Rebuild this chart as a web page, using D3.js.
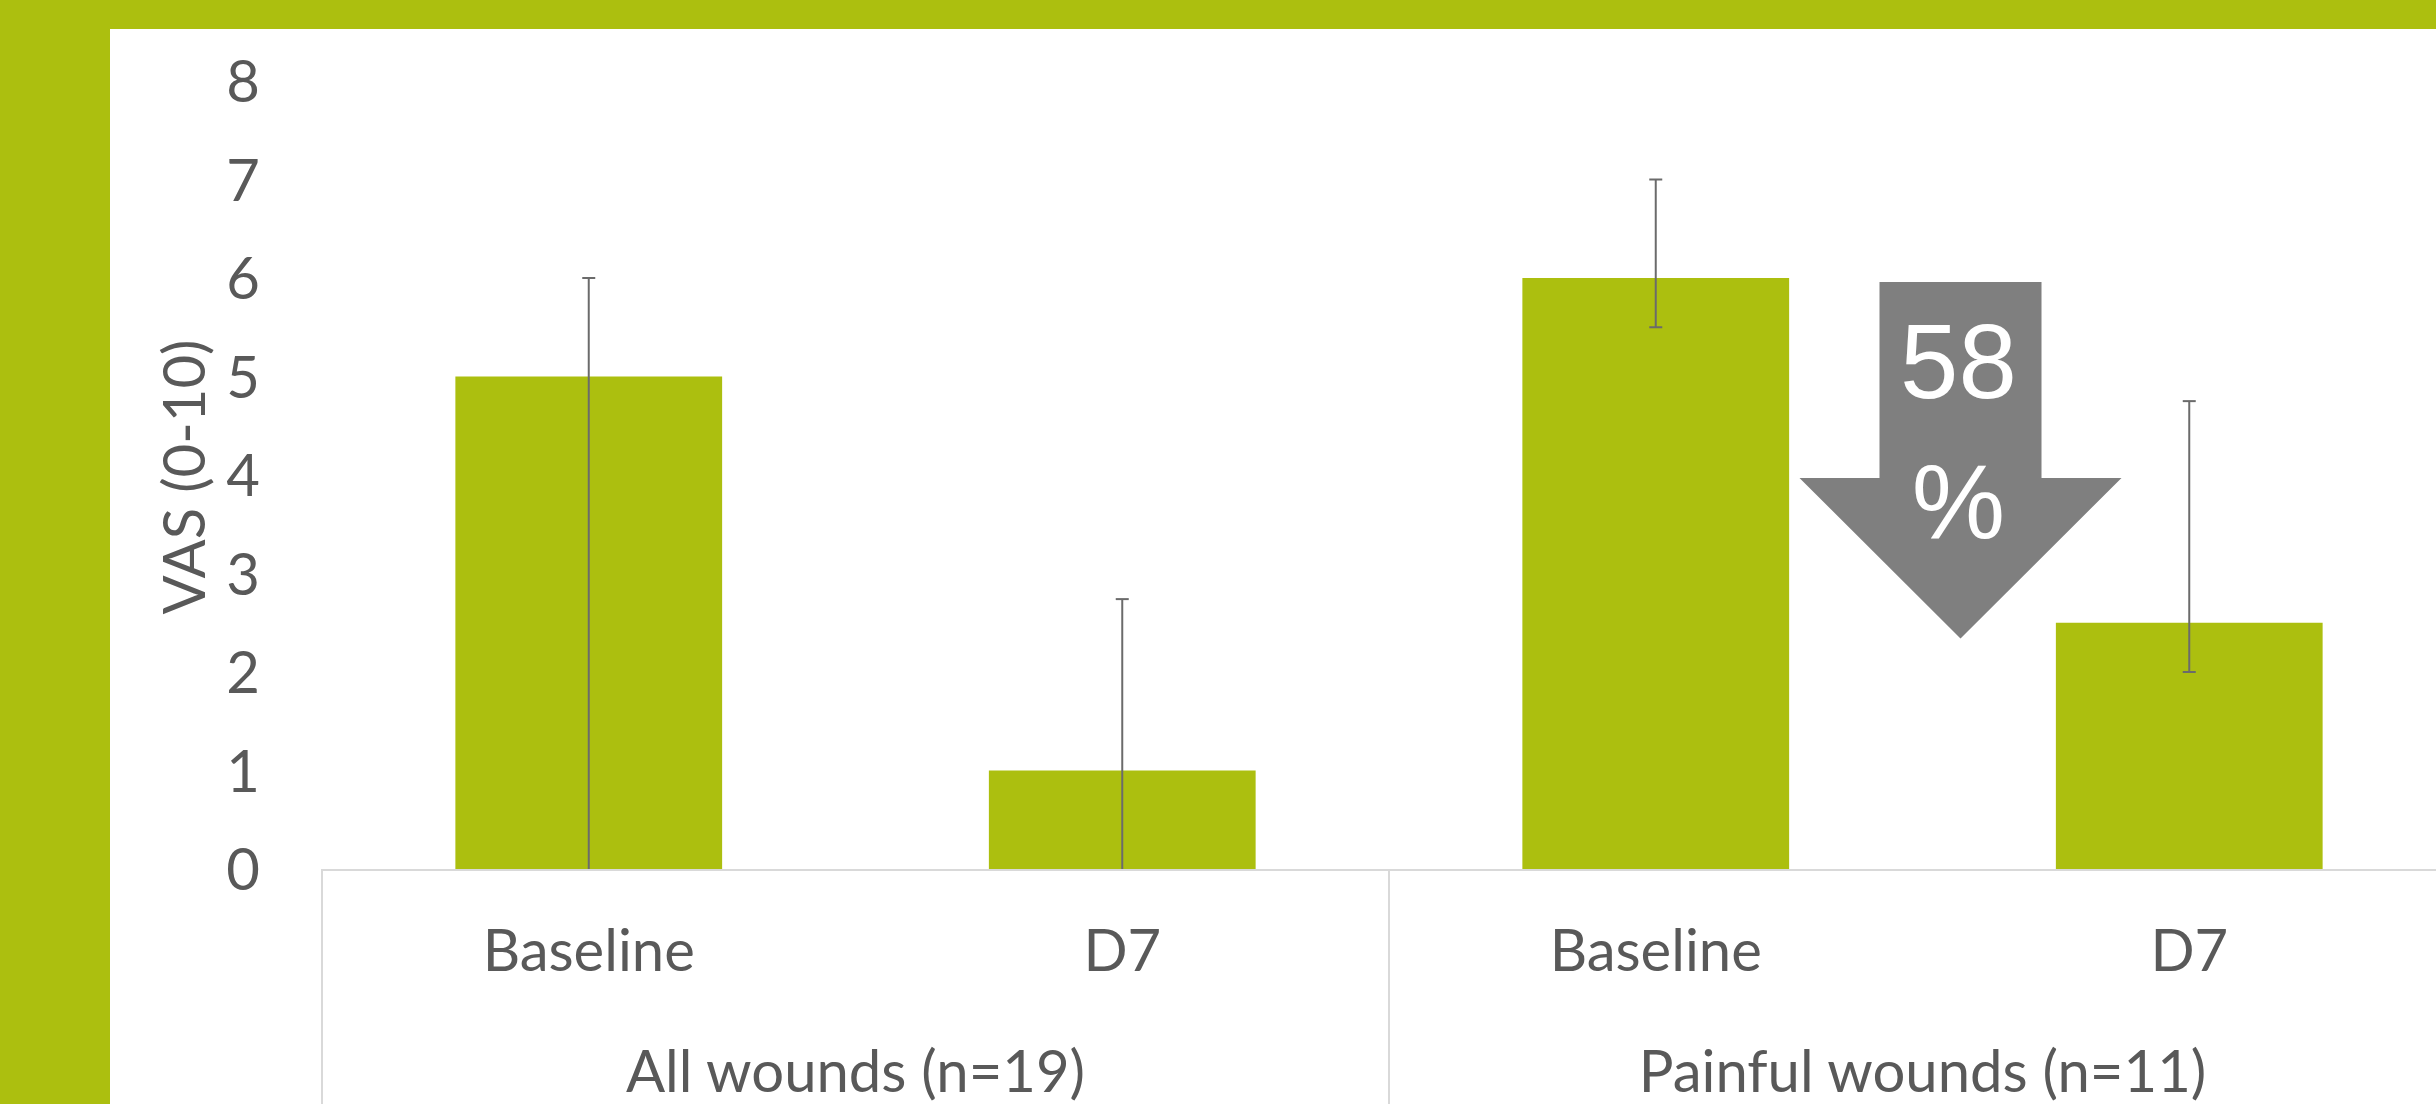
<!DOCTYPE html>
<html>
<head>
<meta charset="utf-8">
<script src="https://cdn.jsdelivr.net/npm/d3@7"></script>
<style>
  html, body { margin: 0; padding: 0; background: #acbf0f; overflow: hidden; }
  svg { display: block; }
</style>
</head>
<body>
<svg id="chart" width="2436" height="1104"></svg>
<script>
// ---- data ----
const groups = ["All wounds (n=19)", "Painful wounds (n=11)"];
const timepoints = ["Baseline", "D7"];
const means = [5, 1, 6, 2.5];
const errUpper = [6, 2.74, 7, 4.75];
const errLower = [0, 0, 5.5, 2];
const yTicks = [0, 1, 2, 3, 4, 5, 6, 7, 8];
const yTitle = "VAS (0-10)";
const reductionLines = ["58", "%"];

// ---- layout ----
const W = 2436, H = 1104;
const green = "#acbf0f", textCol = "#595959", axisCol = "#d9d9d9", errCol = "#6b6b6b";
const font = "Lato, 'Open Sans', sans-serif";
const fs = 58;

const svg = d3.select("#chart");
svg.append("rect").attr("x", 0).attr("y", 0).attr("width", W).attr("height", H).attr("fill", green);
svg.append("rect").attr("x", 110).attr("y", 29).attr("width", W - 110).attr("height", H - 29).attr("fill", "#fff");

const cats = [];
groups.forEach((g, gi) => timepoints.forEach((t, ti) => cats.push({ key: gi + "-" + t, g: gi, t })));
const rows = cats.map((c, i) => ({ ...c, v: means[i], hi: errUpper[i], lo: errLower[i] }));

const plotLeft = 322, plotRight = 2456, plotTop = 81, plotBottom = 869;
const x = d3.scaleBand().domain(cats.map(c => c.key)).range([plotLeft, plotRight]).paddingInner(0.5).paddingOuter(0.25);
const y = d3.scaleLinear().domain([0, 8]).range([plotBottom, plotTop]);
const step = x.step();

// bars
svg.append("g").selectAll("rect").data(rows).join("rect")
  .attr("x", d => x(d.key)).attr("width", x.bandwidth())
  .attr("y", d => y(d.v)).attr("height", d => y(0) - y(d.v))
  .attr("fill", green);

// error bars
const eg = svg.append("g").attr("stroke", errCol).attr("stroke-width", 2);
rows.forEach(d => {
  const cx = x(d.key) + x.bandwidth() / 2;
  eg.append("line").attr("x1", cx).attr("x2", cx).attr("y1", y(d.hi)).attr("y2", y(d.lo));
  eg.append("line").attr("x1", cx - 6.5).attr("x2", cx + 6.5).attr("y1", y(d.hi)).attr("y2", y(d.hi));
  if (d.lo > 0) eg.append("line").attr("x1", cx - 6.5).attr("x2", cx + 6.5).attr("y1", y(d.lo)).attr("y2", y(d.lo));
});

// y axis (labels only)
const yAxis = d3.axisLeft(y).tickValues(yTicks).tickSize(0).tickPadding(0).tickFormat(d3.format("d"));
const yg = svg.append("g").attr("transform", `translate(${260},0)`).call(yAxis);
yg.select(".domain").remove();
yg.selectAll("text").attr("fill", textCol).style("font-family", font).style("font-size", fs + "px").attr("dy", "0.36em");

// y title
svg.append("text")
  .attr("transform", `translate(205,${(y(0) + y(8)) / 2 + 2}) rotate(-90)`)
  .attr("text-anchor", "middle").attr("fill", textCol)
  .style("font-family", font).style("font-size", fs + "px").text(yTitle);

// x axis line + dividers
svg.append("line").attr("x1", plotLeft).attr("x2", plotRight).attr("y1", y(0) + 1).attr("y2", y(0) + 1)
  .attr("stroke", axisCol).attr("stroke-width", 2);
const dividers = d3.range(groups.length + 1).map(i => plotLeft + i * step * timepoints.length);
svg.append("g").selectAll("line").data(dividers).join("line")
  .attr("x1", d => d).attr("x2", d => d).attr("y1", y(0)).attr("y2", H)
  .attr("stroke", axisCol).attr("stroke-width", 2);

// category labels
svg.append("g").selectAll("text").data(rows).join("text")
  .attr("x", d => x(d.key) + x.bandwidth() / 2).attr("y", 971)
  .attr("text-anchor", "middle").attr("fill", textCol)
  .style("font-family", font).style("font-size", fs + "px").text(d => d.t);

// group labels
svg.append("g").selectAll("text").data(groups).join("text")
  .attr("x", (d, i) => plotLeft + (i + 0.5) * step * timepoints.length).attr("y", 1092)
  .attr("text-anchor", "middle").attr("fill", textCol)
  .style("font-family", font).style("font-size", fs + "px").text(d => d);

// reduction arrow annotation (between painful baseline and D7)
const pb = rows[2], pd = rows[3];
const acx = (x(pb.key) + x(pd.key) + x.bandwidth()) / 2 + 38;
const shaftHalf = 81, headHalf = 161;
const aTop = y(pb.v) + 4, aNeck = y(3.97), aTip = y(2.34);
const arrowPts = [
  [acx - shaftHalf, aTop], [acx + shaftHalf, aTop], [acx + shaftHalf, aNeck], [acx + headHalf, aNeck],
  [acx, aTip], [acx - headHalf, aNeck], [acx - shaftHalf, aNeck]
];
svg.append("path").attr("d", d3.line()(arrowPts) + "Z").attr("fill", "#7f7f7f");
svg.append("g").selectAll("text").data(reductionLines).join("text")
  .attr("x", acx - 2).attr("y", (d, i) => 398 + i * 140)
  .attr("text-anchor", "middle").attr("fill", "#fff")
  .style("font-family", "'Liberation Sans', Arial, sans-serif").style("font-size", "105px").text(d => d);
</script>
</body>
</html>
